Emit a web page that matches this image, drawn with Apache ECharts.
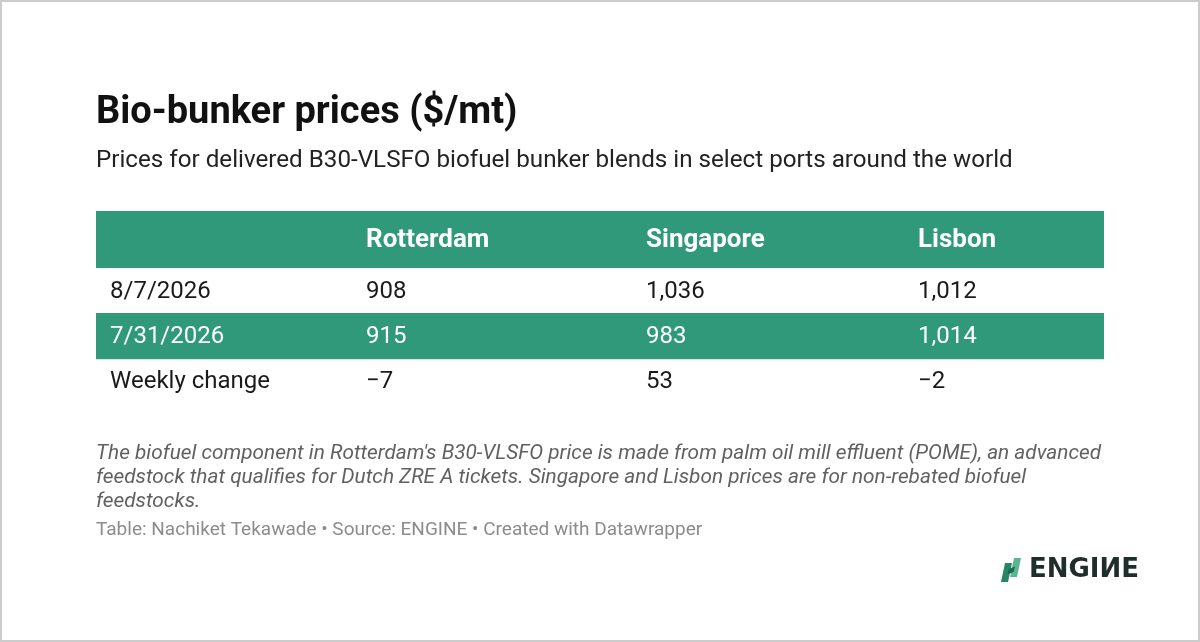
<!DOCTYPE html>
<html>
<head>
<meta charset="utf-8">
<script src="https://cdn.jsdelivr.net/npm/echarts@6/dist/echarts.min.js"></script>
<style>
  html, body { margin: 0; padding: 0; background: #fff; }
  #chart { width: 1200px; height: 642px; }
</style>
</head>
<body>
<div id="chart"></div>
<script>
// table content
const columns = ["", "Rotterdam", "Singapore", "Lisbon"];
const rowLabels = ["8/7/2026", "7/31/2026", "Weekly change"];
const rotterdam = [908, 915, -7];
const singapore = [1036, 983, 53];
const lisbon = [1012, 1014, -2];
const shadedRows = [1]; // index of the green striped row

const titleText = "Bio-bunker prices ($/mt)";
const subtitleText = "Prices for delivered B30-VLSFO biofuel bunker blends in select ports around the world";
const noteLines = [
  "The biofuel component in Rotterdam's B30-VLSFO price is made from palm oil mill effluent (POME), an advanced",
  "feedstock that qualifies for Dutch ZRE A tickets. Singapore and Lisbon prices are for non-rebated biofuel",
  "feedstocks."
];
const sourceText = "Table: Nachiket Tekawade \u2022 Source: ENGINE \u2022 Created with Datawrapper";

// layout (table units = px across the table)
const tableWidth = 1008;
const colStart = [0, 256, 536, 808];
const cellPad = 14;
const green = "#2f997a";
const font = "Roboto";

function fmt(v) {
  if (v < 0) return "\u2212" + Math.abs(v).toLocaleString("en-US");
  return v.toLocaleString("en-US");
}

// build cells: [col, row, text]
const headerCells = columns.map((c, i) => [i, 0, c]);
const bodyCells = [];
rowLabels.forEach((lab, r) => {
  const vals = [lab, fmt(rotterdam[r]), fmt(singapore[r]), fmt(lisbon[r])];
  vals.forEach((t, c) => bodyCells.push([c, r, t]));
});

function bandRect(api, row, color, withLine) {
  const a = api.coord([0, row]);
  const b = api.coord([tableWidth, row]);
  const h = api.size([0, 1])[1];
  const y0 = Math.round(a[1] - h / 2);
  const y1 = Math.round(a[1] + h / 2);
  const children = [{
    type: "rect",
    shape: { x: a[0], y: y0, width: b[0] - a[0], height: y1 - y0 },
    style: { fill: color }
  }];
  if (withLine) {
    children.push({
      type: "rect",
      shape: { x: a[0], y: y1, width: b[0] - a[0], height: 1 },
      style: { fill: "#d9e6e1" }
    });
  }
  return { type: "group", children: children };
}

function cellText(cells, bold, size, whiteRows) {
  return function (params, api) {
    const cell = cells[params.dataIndex];
    const p = api.coord([colStart[cell[0]] + cellPad, cell[1]]);
    const white = whiteRows.indexOf(cell[1]) >= 0;
    return {
      type: "text",
      x: p[0],
      y: p[1] + 1,
      style: {
        text: cell[2],
        fill: white ? "#ffffff" : "#1a1a1a",
        fontFamily: font,
        fontSize: size,
        fontWeight: bold ? "bold" : "normal",
        textAlign: "left",
        textVerticalAlign: "middle"
      }
    };
  };
}

const chart = echarts.init(document.getElementById("chart"), null, { renderer: "canvas" });

const option = {
  backgroundColor: "#ffffff",
  animation: false,
  title: [
    {
      text: titleText, left: 96, top: 94, padding: 0,
      textStyle: { fontFamily: font, fontWeight: "bold", fontSize: 38, color: "#111111" }
    },
    {
      text: subtitleText, left: 96, top: 149, padding: 0,
      textStyle: { fontFamily: font, fontWeight: "normal", fontSize: 24.2, color: "#222222" }
    },
    {
      text: noteLines.join("\n"), left: 96, top: 442, padding: 0,
      textStyle: { fontFamily: font, fontStyle: "italic", fontWeight: "normal", fontSize: 20.8, lineHeight: 24, color: "#616161" }
    },
    {
      text: sourceText, left: 96, top: 521, padding: 0,
      textStyle: { fontFamily: font, fontWeight: "normal", fontSize: 19, color: "#8c8c8c" }
    }
  ],
  grid: [
    { left: 96, top: 211, width: tableWidth, height: 57 },
    { left: 96, top: 268, width: tableWidth, height: 136 }
  ],
  xAxis: [
    { type: "value", gridIndex: 0, min: 0, max: tableWidth, show: false },
    { type: "value", gridIndex: 1, min: 0, max: tableWidth, show: false }
  ],
  yAxis: [
    { type: "category", gridIndex: 0, data: ["header"], show: false },
    { type: "category", gridIndex: 1, data: rowLabels, inverse: true, show: false }
  ],
  series: [
    {
      type: "custom", xAxisIndex: 0, yAxisIndex: 0, silent: true,
      data: [[0, 0]],
      renderItem: (params, api) => bandRect(api, 0, green, false)
    },
    {
      type: "custom", xAxisIndex: 1, yAxisIndex: 1, silent: true,
      data: shadedRows.map(r => [0, r]),
      renderItem: (params, api) => bandRect(api, api.value(1), green, true)
    },
    {
      type: "custom", xAxisIndex: 0, yAxisIndex: 0, silent: true, z: 5,
      data: headerCells.map(c => [c[0], c[1]]),
      renderItem: cellText(headerCells, true, 26, [0])
    },
    {
      type: "custom", xAxisIndex: 1, yAxisIndex: 1, silent: true, z: 5,
      data: bodyCells.map(c => [c[0], c[1]]),
      renderItem: cellText(bodyCells, false, 24, shadedRows)
    }
  ],
  graphic: [
    {
      type: "rect", silent: true,
      shape: { x: 1, y: 1, width: 1198, height: 640 },
      style: { fill: "none", stroke: "#cccccc", lineWidth: 2 }
    },
    {
      type: "group", left: 1001, top: 557, silent: true,
      children: [
        { type: "polygon", shape: { points: [[5, 5], [12, 5], [8, 24], [1, 24]] }, style: { fill: "#2a8466" } },
        { type: "polygon", shape: { points: [[14, 0], [21, 0], [17, 19], [10, 19]] }, style: { fill: "#5ab593" } },
        { type: "polygon", shape: { points: [[8.5, 11], [15, 8.5], [13.6, 14], [7.4, 16.5]] }, style: { fill: "#1d6a50" } },
        {
          type: "text", x: 29, y: 12,
          style: {
            text: "ENGI\u0418E", fill: "#1f2e2a", fontFamily: "DejaVu Sans", fontWeight: "bold",
            fontSize: 26, textVerticalAlign: "middle"
          }
        }
      ]
    }
  ]
};

chart.setOption(option);
window.addEventListener("resize", () => chart.resize());
</script>
</body>
</html>
